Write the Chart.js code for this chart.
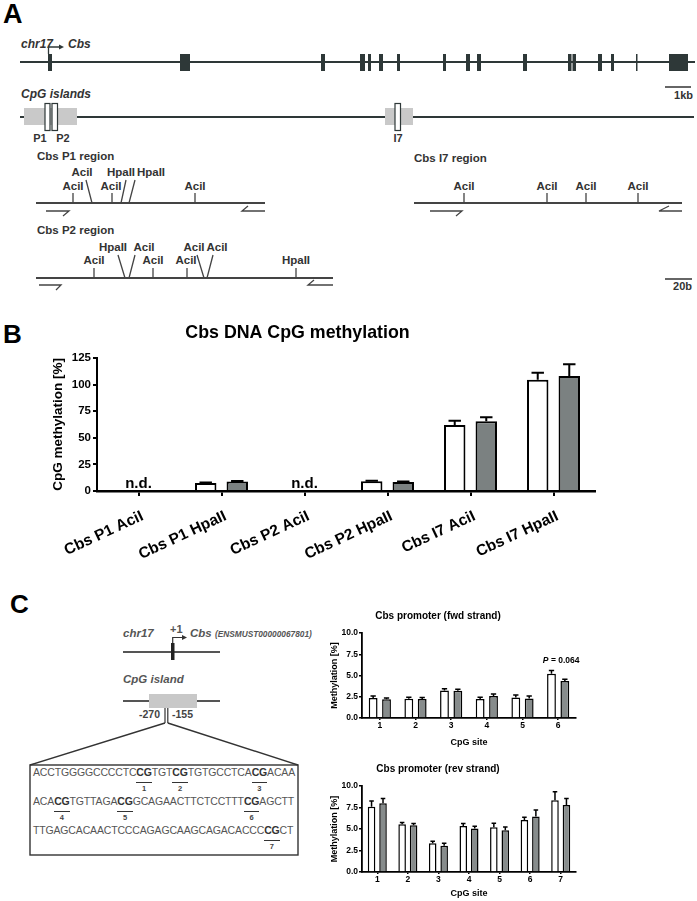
<!DOCTYPE html>
<html lang="en">
<head>
<meta charset="UTF-8"/>
<title>Cbs CpG methylation</title>
<script src="https://cdn.jsdelivr.net/npm/chart.js"></script>
<style>
  * { box-sizing: border-box; }
  body { margin: 0; width: 697px; height: 901px; position: relative; overflow: hidden; background: #fff;
         font-family: "Liberation Sans", Arial, Helvetica, sans-serif; }
  svg { position: absolute; left: 0; top: 0; }
  svg text { font-family: "Liberation Sans", Arial, Helvetica, sans-serif; font-weight: bold; }
  canvas { position: absolute; }
  .seq { position: absolute; left: 33px; font-size: 10.5px; line-height: 12px; letter-spacing: -0.16px; color: #555; white-space: nowrap; }
  .cg { position: relative; font-weight: bold; color: #333; }
  .cg i { position: absolute; left: 0; right: 0; top: 16px; border-top: 1.4px solid #333; font-style: normal;
          font-size: 7.5px; line-height: 8px; padding-top: 2px; text-align: center; color: #444; }
</style>
</head>
<body>

<svg width="697" height="901">
  <!-- panel letters -->
  <text x="3" y="23" font-size="27" fill="#000">A</text>
  <text x="3" y="343" font-size="26" fill="#000">B</text>
  <text x="10" y="613" font-size="26" fill="#000">C</text>

  <!-- A: gene model -->
  <text x="21" y="48" font-size="12" font-style="italic" fill="#333">chr17</text>
  <path d="M48.5 54 V47 H60" fill="none" stroke="#2e3838" stroke-width="1.3"/>
  <path d="M59 44.5 L64 47 L59 49.5 Z" fill="#2e3838"/>
  <text x="68" y="48" font-size="12" font-style="italic" fill="#333">Cbs</text>
  <line x1="20" y1="62" x2="695" y2="62" stroke="#2e3838" stroke-width="2"/>
  <g fill="#2e3838">
    <rect x="48" y="54" width="4" height="17"/>
    <rect x="180" y="54" width="10" height="17"/>
    <rect x="321" y="54" width="4" height="17"/>
    <rect x="360" y="54" width="5" height="17"/>
    <rect x="368" y="54" width="3" height="17"/>
    <rect x="379" y="54" width="4" height="17"/>
    <rect x="397" y="54" width="3" height="17"/>
    <rect x="443" y="54" width="3" height="17"/>
    <rect x="466" y="54" width="4" height="17"/>
    <rect x="477" y="54" width="4" height="17"/>
    <rect x="523" y="54" width="4" height="17"/>
    <rect x="568" y="54" width="3.5" height="17"/>
    <rect x="572.5" y="54" width="3.5" height="17"/>
    <rect x="598" y="54" width="4" height="17"/>
    <rect x="611" y="54" width="3" height="17"/>
    <rect x="636" y="54" width="1.5" height="17"/>
    <rect x="669" y="54" width="19" height="17"/>
  </g>
  <line x1="665" y1="87" x2="691" y2="87" stroke="#333" stroke-width="1.5"/>
  <text x="693" y="99" font-size="11" text-anchor="end" fill="#333">1kb</text>

  <!-- A: CpG islands -->
  <text x="21" y="98" font-size="12" font-style="italic" fill="#333">CpG islands</text>
  <line x1="20" y1="117" x2="694" y2="117" stroke="#2e3838" stroke-width="2"/>
  <rect x="24" y="108" width="53" height="17" fill="#c9c9c9"/>
  <rect x="385" y="108" width="28" height="17" fill="#c9c9c9"/>
  <g fill="#fff" stroke="#2e3838" stroke-width="1.2">
    <rect x="45" y="103.5" width="5" height="27"/>
    <rect x="52" y="103.5" width="5.5" height="27"/>
    <rect x="395" y="103.5" width="5.5" height="27"/>
  </g>
  <g font-size="11" text-anchor="middle" fill="#333">
    <text x="40" y="142">P1</text>
    <text x="63" y="142">P2</text>
    <text x="398" y="142">I7</text>
  </g>

  <!-- A: amplicon maps -->
  <g font-size="11.5" fill="#333">
    <text x="37" y="160">Cbs P1 region</text>
    <text x="37" y="234">Cbs P2 region</text>
    <text x="414" y="162">Cbs I7 region</text>
  </g>
  <g stroke="#444" stroke-width="1.8" fill="none">
    <line x1="36" y1="203" x2="265" y2="203"/>
    <line x1="36" y1="278" x2="333" y2="278"/>
    <line x1="414" y1="203" x2="682" y2="203"/>
  </g>
  <g stroke="#444" stroke-width="1.3" fill="none">
    <!-- P1 sites -->
    <path d="M73 193 V203 M112 193 V203 M195 193 V203"/>
    <path d="M86 180 L92 203 M126 180 L121 203 M135 180 L129 203"/>
    <!-- P2 sites -->
    <path d="M94 268 V278 M153 268 V278 M187 268 V278 M296 268 V278"/>
    <path d="M118 255 L125 278 M135 255 L129 278 M197 255 L204 278 M213 255 L207 278"/>
    <!-- I7 sites -->
    <path d="M464 193 V203 M547 193 V203 M586 193 V203 M638 193 V203"/>
    <!-- primers -->
    <path d="M46 211 H69 L63 216 M248 206 L242 211 H265"/>
    <path d="M39 285 H61 L56 290 M314 280 L308 285 H333"/>
    <path d="M430 211 H462 L456 216 M669 206 L659 211 H682"/>
  </g>
  <g font-size="11.5" text-anchor="middle" fill="#333">
    <text x="73" y="190">AciI</text>
    <text x="82" y="176">AciI</text>
    <text x="111" y="190">AciI</text>
    <text x="121" y="176">HpaII</text>
    <text x="151" y="176">HpaII</text>
    <text x="195" y="190">AciI</text>

    <text x="94" y="264">AciI</text>
    <text x="113" y="251">HpaII</text>
    <text x="144" y="251">AciI</text>
    <text x="153" y="264">AciI</text>
    <text x="186" y="264">AciI</text>
    <text x="194" y="251">AciI</text>
    <text x="217" y="251">AciI</text>
    <text x="296" y="264">HpaII</text>

    <text x="464" y="190">AciI</text>
    <text x="547" y="190">AciI</text>
    <text x="586" y="190">AciI</text>
    <text x="638" y="190">AciI</text>
  </g>
  <line x1="665" y1="279" x2="692" y2="279" stroke="#333" stroke-width="1.5"/>
  <text x="692" y="290" font-size="11" text-anchor="end" fill="#333">20b</text>

  <!-- C: promoter schematic -->
  <text x="123" y="637" font-size="11.5" font-style="italic" fill="#555">chr17</text>
  <text x="170" y="633" font-size="11" fill="#555">+1</text>
  <line x1="123" y1="652" x2="220" y2="652" stroke="#555" stroke-width="1.8"/>
  <rect x="171" y="643" width="3.5" height="17" fill="#222"/>
  <path d="M172.7 643 V637.5 H183" fill="none" stroke="#333" stroke-width="1.2"/>
  <path d="M182 635 L187 637.5 L182 640 Z" fill="#333"/>
  <text x="190" y="637" font-size="11.5" font-style="italic" fill="#555">Cbs <tspan font-size="8.3">(ENSMUST00000067801)</tspan></text>
  <text x="123" y="683" font-size="11.5" font-style="italic" fill="#555">CpG island</text>
  <line x1="123" y1="701" x2="220" y2="701" stroke="#555" stroke-width="1.8"/>
  <rect x="149" y="694" width="48" height="14" fill="#c8c8c8"/>
  <g stroke="#333" stroke-width="1.2">
    <line x1="165" y1="708" x2="165" y2="723"/>
    <line x1="167.8" y1="708" x2="167.8" y2="723"/>
  </g>
  <text x="160" y="718" font-size="10.5" text-anchor="end" fill="#444">-270</text>
  <text x="172" y="718" font-size="10.5" fill="#444">-155</text>
  <g stroke="#333" stroke-width="1.4" fill="none">
    <path d="M165 723 L30 765 M167.8 723 L298 765"/>
    <rect x="30" y="765" width="268" height="90"/>
  </g>
</svg>

<div class="seq" style="top:765.5px">ACCTGGGGCCCCTC<span class="cg">CG<i>1</i></span>TGT<span class="cg">CG<i>2</i></span>TGTGCCTCA<span class="cg">CG<i>3</i></span>ACAA</div>
<div class="seq" style="top:794.5px">ACA<span class="cg">CG<i>4</i></span>TGTTAGA<span class="cg">CG<i>5</i></span>GCAGAACTTCTCCTTT<span class="cg">CG<i>6</i></span>AGCTT</div>
<div class="seq" style="top:823.5px">TTGAGCACAACTCCCAGAGCAAGCAGACACCC<span class="cg">CG<i>7</i></span>CT</div>

<canvas id="chartB" width="697" height="248" style="left:0;top:322px"></canvas>
<canvas id="chartFwd" width="300" height="145" style="left:300px;top:605px"></canvas>
<canvas id="chartRev" width="300" height="143" style="left:300px;top:758px"></canvas>

<script>
// ---- panel B: Cbs DNA CpG methylation (n.d. = null)
const regionsB = ['Cbs P1 AciI', 'Cbs P1 HpaII', 'Cbs P2 AciI', 'Cbs P2 HpaII', 'Cbs I7 AciI', 'Cbs I7 HpaII'];
const openB = [null, 7.5, null, 9.2, 62, 104.5];
const openErrB = [null, 0.4, null, 0.5, 4, 6.5];
const filledB = [null, 9, null, 8.5, 65.5, 108];
const filledErrB = [null, 0.5, null, 0.4, 3.8, 11];
const ticksB = [0, 25, 50, 75, 100, 125];

// ---- panel C: promoter, forward strand
const sitesFwd = ['1', '2', '3', '4', '5', '6'];
const fwdOpen = [2.35, 2.27, 3.25, 2.24, 2.4, 5.2];
const fwdOpenErr = [0.25, 0.18, 0.2, 0.19, 0.3, 0.4];
const fwdFilled = [2.2, 2.24, 3.2, 2.6, 2.3, 4.35];
const fwdFilledErr = [0.15, 0.16, 0.17, 0.22, 0.28, 0.2];

// ---- panel C: promoter, reverse strand
const sitesRev = ['1', '2', '3', '4', '5', '6', '7'];
const revOpen = [7.6, 5.55, 3.35, 5.35, 5.2, 6.05, 8.35];
const revOpenErr = [0.65, 0.2, 0.22, 0.3, 0.48, 0.32, 0.98];
const revFilled = [8.0, 5.45, 3.05, 5.05, 4.85, 6.45, 7.8];
const revFilledErr = [0.55, 0.2, 0.3, 0.28, 0.37, 0.77, 0.75];
const ticksC = [0, 2.5, 5, 7.5, 10];

const FONT = '"Liberation Sans", Arial, Helvetica, sans-serif';
Chart.defaults.font.family = FONT;
Chart.defaults.color = '#000';

// upper half error bars (mean + SEM)
const errorBars = {
  id: 'errorBars',
  afterDatasetsDraw(chart, args, opts) {
    const { ctx } = chart;
    const y = chart.scales.y;
    chart.data.datasets.forEach((ds, i) => {
      chart.getDatasetMeta(i).data.forEach((bar, j) => {
        const v = ds.data[j], e = ds.errors ? ds.errors[j] : null;
        if (v == null || !e) return;
        const top = y.getPixelForValue(v + e);
        const half = bar.width * opts.cap / 2;
        ctx.save();
        ctx.strokeStyle = '#000';
        ctx.lineWidth = opts.width;
        ctx.beginPath();
        ctx.moveTo(bar.x, bar.y);
        ctx.lineTo(bar.x, top);
        ctx.moveTo(bar.x - half, top);
        ctx.lineTo(bar.x + half, top);
        ctx.stroke();
        ctx.restore();
      });
    });
  }
};

// "n.d." where no value was measured
const ndLabels = {
  id: 'ndLabels',
  afterDatasetsDraw(chart) {
    const { ctx } = chart;
    const x = chart.scales.x, y = chart.scales.y;
    ctx.save();
    ctx.font = 'bold 15px ' + FONT;
    ctx.textAlign = 'center';
    ctx.textBaseline = 'alphabetic';
    ctx.fillStyle = '#000';
    regionsB.forEach((r, i) => {
      if (openB[i] == null && filledB[i] == null) {
        ctx.fillText('n.d.', x.getPixelForValue(i), y.getPixelForValue(0) - 3);
      }
    });
    ctx.restore();
  }
};

// P value above site 6 (fwd strand)
const pValue = {
  id: 'pValue',
  afterDatasetsDraw(chart) {
    const { ctx } = chart;
    const cx = chart.scales.x.getPixelForValue(5);
    const cy = chart.scales.y.getPixelForValue(6.5);
    ctx.save();
    ctx.fillStyle = '#000';
    ctx.textBaseline = 'alphabetic';
    const a = 'bold italic 8.5px ' + FONT, b = 'bold 8.5px ' + FONT;
    ctx.font = a; const w1 = ctx.measureText('P').width;
    ctx.font = b; const w2 = ctx.measureText(' = 0.064').width;
    let x0 = cx + 3 - (w1 + w2) / 2;
    ctx.font = a; ctx.fillText('P', x0, cy);
    ctx.font = b; ctx.fillText(' = 0.064', x0 + w1, cy);
    ctx.restore();
  }
};

new Chart(document.getElementById('chartB'), {
  type: 'bar',
  data: {
    labels: regionsB,
    datasets: [
      { data: openB, errors: openErrB, backgroundColor: '#fff', borderColor: '#000', borderWidth: 2, borderSkipped: 'start' },
      { data: filledB, errors: filledErrB, backgroundColor: '#7b8181', borderColor: '#000', borderWidth: 2, borderSkipped: 'start' }
    ]
  },
  options: {
    responsive: false,
    animation: false,
    layout: { padding: { left: 0, right: 102, top: 0, bottom: 0 } },
    datasets: { bar: { categoryPercentage: 0.76, barPercentage: 0.68 } },
    plugins: {
      legend: { display: false },
      tooltip: { enabled: false },
      title: { display: true, text: 'Cbs DNA CpG methylation', color: '#000',
               font: { size: 17.8, weight: 'bold' }, padding: { top: 0, bottom: 14.6 } },
      errorBars: { width: 2, cap: 0.58 }
    },
    scales: {
      x: {
        afterFit: s => { s.height = 79; },
        grid: { drawOnChartArea: false, offset: false, tickLength: 5, lineWidth: 2, color: '#000' },
        border: { width: 2.5, color: '#000' },
        ticks: { minRotation: 25, maxRotation: 25, autoSkip: false, padding: 11, labelOffset: 4,
                 font: { size: 15.5, weight: 'bold' } }
      },
      y: {
        min: 0, max: 125,
        afterFit: s => { s.width = 97; },
        afterBuildTicks: s => { s.ticks = ticksB.map(v => ({ value: v })); },
        ticks: { padding: 2, font: { size: 11.5, weight: 'bold' } },
        grid: { drawOnChartArea: false, tickLength: 4, lineWidth: 2, color: '#000' },
        border: { width: 2, color: '#000' },
        title: { display: true, text: 'CpG methylation [%]', font: { size: 13.5, weight: 'bold' }, padding: { top: 50 } }
      }
    }
  },
  plugins: [errorBars, ndLabels]
});

function strandChart(id, title, sites, open, openErr, filled, filledErr, xHeight, extra) {
  return new Chart(document.getElementById(id), {
    type: 'bar',
    data: {
      labels: sites,
      datasets: [
        { data: open, errors: openErr, backgroundColor: '#fff', borderColor: '#000', borderWidth: 1.5, borderSkipped: 'start' },
        { data: filled, errors: filledErr, backgroundColor: '#878c8c', borderColor: '#000', borderWidth: 1.5, borderSkipped: 'start' }
      ]
    },
    options: {
      responsive: false,
      animation: false,
      layout: { padding: { left: 0, right: 24, top: 0, bottom: 0 } },
      datasets: { bar: { categoryPercentage: 0.75, barPercentage: 0.66 } },
      plugins: {
        legend: { display: false },
        tooltip: { enabled: false },
        title: { display: true, text: title, color: '#000', font: { size: 10, weight: 'bold' }, padding: { top: 5, bottom: 11 } },
        errorBars: { width: 1.5, cap: 0.6 }
      },
      scales: {
        x: {
          afterFit: s => { s.height = xHeight; },
          grid: { drawOnChartArea: false, offset: false, tickLength: 2, lineWidth: 1.5, color: '#000' },
          border: { width: 1.8, color: '#000' },
          ticks: { maxRotation: 0, autoSkip: false, padding: 1, font: { size: 8.5, weight: 'bold' } },
          title: { display: true, text: 'CpG site', font: { size: 9, weight: 'bold' }, padding: { top: 0, bottom: 2 } }
        },
        y: {
          min: 0, max: 10,
          afterFit: s => { s.width = 62; },
          afterBuildTicks: s => { s.ticks = ticksC.map(v => ({ value: v })); },
          ticks: { padding: 1, font: { size: 8.5, weight: 'bold' }, callback: v => v.toFixed(1) },
          grid: { drawOnChartArea: false, tickLength: 3, lineWidth: 1.5, color: '#000' },
          border: { width: 1.8, color: '#000' },
          title: { display: true, text: 'Methylation [%]', font: { size: 9, weight: 'bold' }, padding: { top: 29.6 } }
        }
      }
    },
    plugins: [errorBars].concat(extra || [])
  });
}

strandChart('chartFwd', 'Cbs promoter (fwd strand)', sitesFwd, fwdOpen, fwdOpenErr, fwdFilled, fwdFilledErr, 32, [pValue]);
strandChart('chartRev', 'Cbs promoter (rev strand)', sitesRev, revOpen, revOpenErr, revFilled, revFilledErr, 29);
</script>
</body>
</html>
